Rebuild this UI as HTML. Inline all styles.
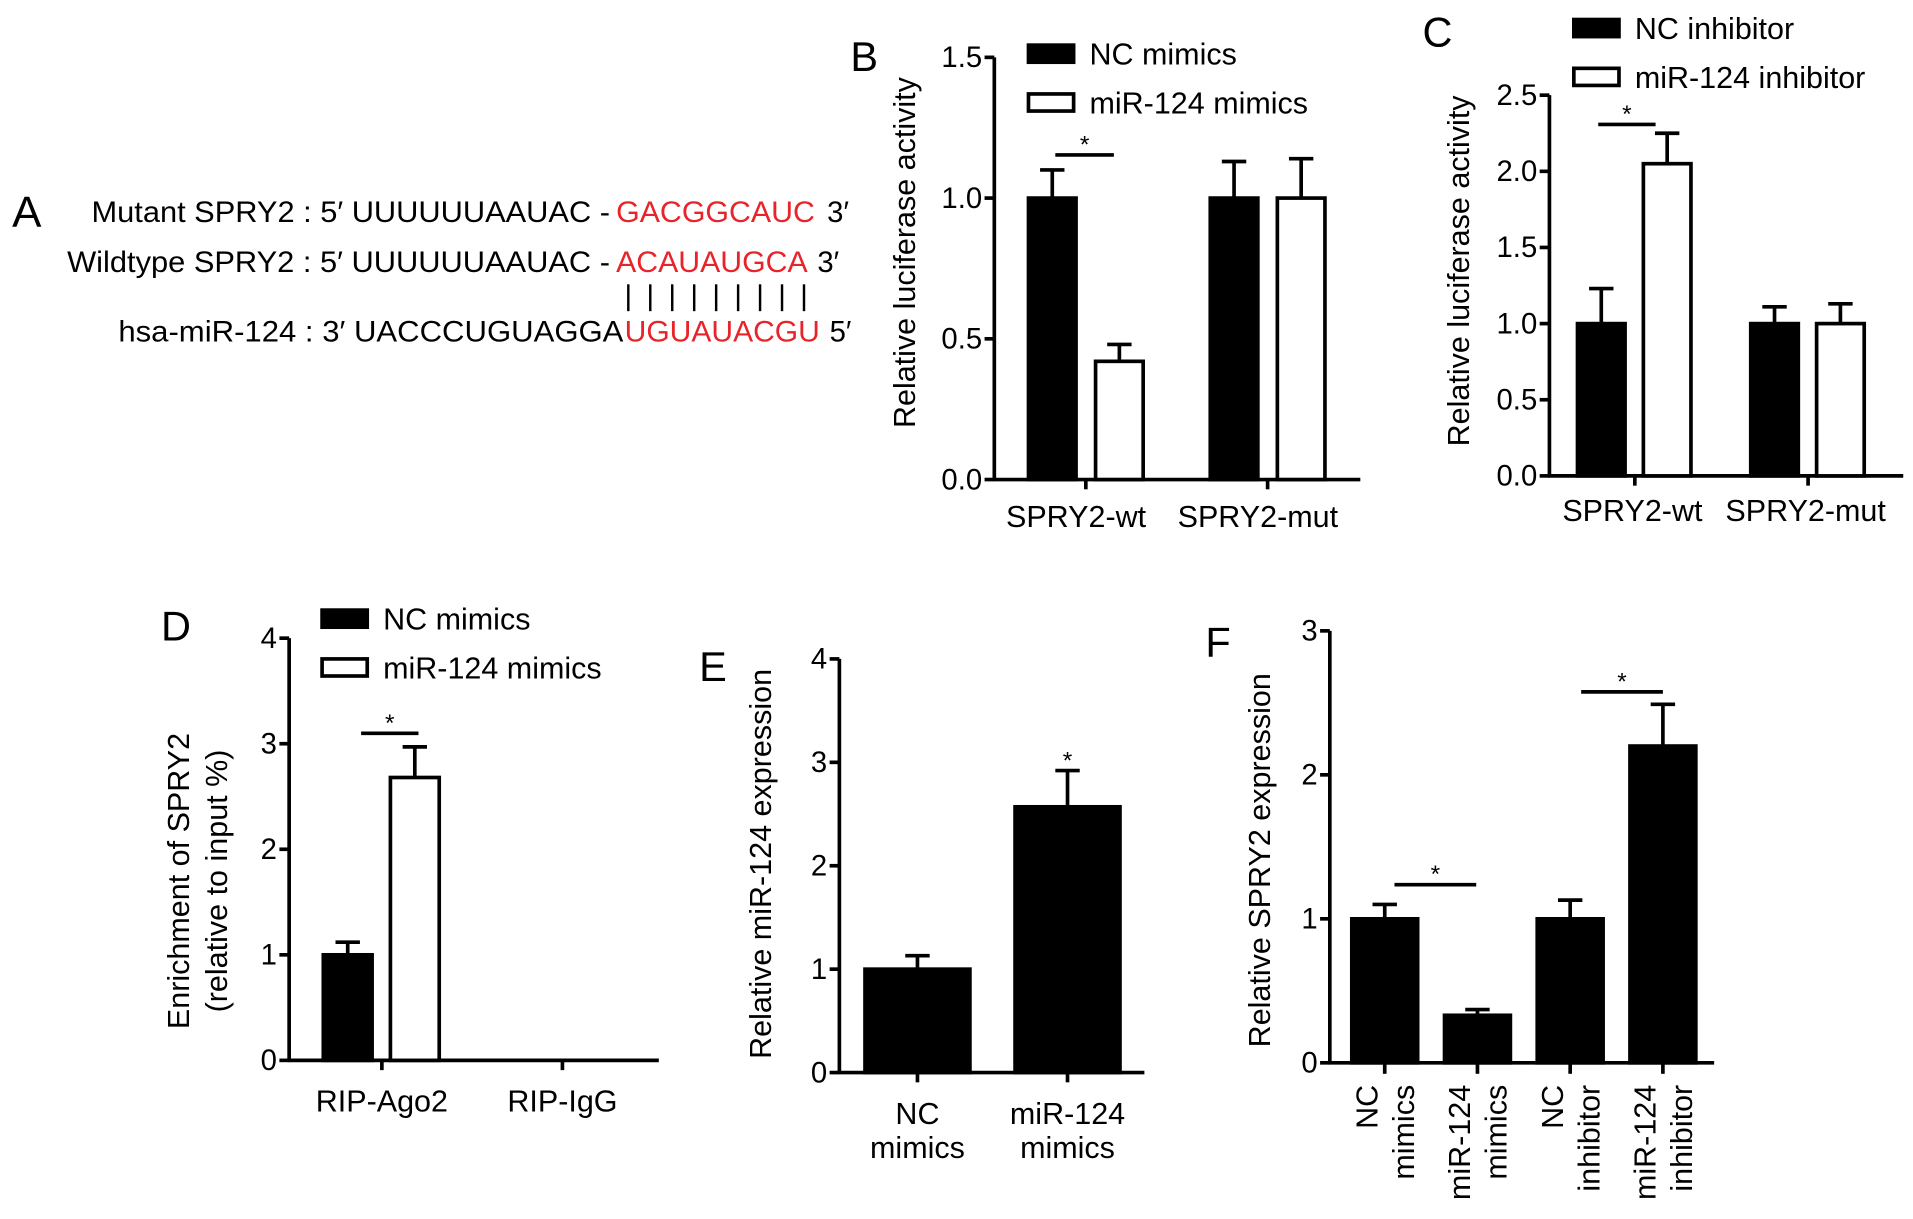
<!DOCTYPE html>
<html><head><meta charset="utf-8">
<style>
html,body{margin:0;padding:0;background:#fff;}
svg{display:block;font-family:"Liberation Sans",Arial,sans-serif;}
</style></head>
<body>
<svg id="fig" width="1913" height="1219" viewBox="0 0 1568 999" preserveAspectRatio="none" xmlns="http://www.w3.org/2000/svg">
<g font-size="24">
  <text x="10" y="186" font-size="36">A</text>
  <text x="75" y="182" textLength="425" lengthAdjust="spacingAndGlyphs">Mutant SPRY2 : 5′ UUUUUUAAUAC -</text>
  <text x="505" y="182" fill="#e8242a" textLength="163" lengthAdjust="spacingAndGlyphs">GACGGCAUC</text>
  <text x="678" y="182">3′</text>
  <text x="55" y="223" textLength="445" lengthAdjust="spacingAndGlyphs">Wildtype SPRY2 : 5′ UUUUUUAAUAC -</text>
  <text x="505" y="223" fill="#e8242a" textLength="157" lengthAdjust="spacingAndGlyphs">ACAUAUGCA</text>
  <text x="670" y="223">3′</text>
  <g id="pairs" stroke="#000" stroke-width="2"></g>
  <text x="97" y="280" textLength="414" lengthAdjust="spacingAndGlyphs">hsa-miR-124 : 3′ UACCCUGUAGGA</text>
  <text x="512" y="280" fill="#e8242a" textLength="160" lengthAdjust="spacingAndGlyphs">UGUAUACGU</text>
  <text x="680" y="280">5′</text>
</g>
</svg>
<script>
const NS="http://www.w3.org/2000/svg";
const svg=document.getElementById('fig');
function mk(tag,attrs,parent){const e=document.createElementNS(NS,tag);for(const k in attrs)e.setAttribute(k,attrs[k]);(parent||svg).appendChild(e);return e;}
const pairs=document.getElementById('pairs');
for(let i=0;i<9;i++){const l=mk('line',{x1:515+i*18,x2:515+i*18,y1:233,y2:255},pairs);

}

// ---- data ----
const bCategories=["SPRY2-wt","SPRY2-mut"];
const bNC=[1.0,1.0];
const bNCerr=[0.10,0.13];
const bMiR=[0.42,1.0];
const bMiRerr=[0.06,0.14];
const bTicks=["0.0","0.5","1.0","1.5"];

const cCategories=["SPRY2-wt","SPRY2-mut"];
const cNC=[1.0,1.0];
const cNCerr=[0.23,0.11];
const cMiR=[2.05,1.0];
const cMiRerr=[0.20,0.13];
const cTicks=["0.0","0.5","1.0","1.5","2.0","2.5"];

const dCategories=["RIP-Ago2","RIP-IgG"];
const dNC=[1.0,0];
const dNCerr=[0.12,0];
const dMiR=[2.68,0];
const dMiRerr=[0.29,0];
const dTicks=["0","1","2","3","4"];

const eCategories=[["NC","mimics"],["miR-124","mimics"]];
const eValues=[1.0,2.57];
const eErr=[0.13,0.35];
const eTicks=["0","1","2","3","4"];

const fCategories=[["NC","mimics"],["miR-124","mimics"],["NC","inhibitor"],["miR-124","inhibitor"]];
const fValues=[1.0,0.33,1.0,2.2];
const fErr=[0.10,0.04,0.13,0.29];
const fTicks=["0","1","2","3"];

const TICK=24, XL=25, YT=25, LEG=25;
function axis(g,x0,x1,y0,y1,vmax,ticks,name){
  const ys=v=>y0-(v/vmax)*(y0-y1);
  const a=mk('line',{x1:x0,x2:x0,y1:y0+1,y2:y1,stroke:'#000','stroke-width':3},g);
  
  
  const b=mk('line',{x1:x0-1,x2:x1,y1:y0,y2:y0,stroke:'#000','stroke-width':3},g);
  
  
  ticks.forEach(t=>{const y=ys(parseFloat(t));
    const tl=mk('line',{x1:x0-8,x2:x0,y1:y,y2:y,stroke:'#000','stroke-width':3},g);
    
    
    const tx=mk('text',{x:x0-10,y:y+8,'text-anchor':'end','font-size':TICK},g);tx.textContent=t;
    
    });
  return ys;
}
function bar(g,x,w,v,err,ys,fill,name){
  const top=ys(v),base=ys(0);
  if(v>0){
  const r=mk('rect',{x:x,y:top,width:w,height:base-top,fill:fill,stroke:'#000','stroke-width':3},g);
  
  }
  if(err>0){const cx=x+w/2;
    const e1=mk('line',{x1:cx,x2:cx,y1:top,y2:ys(v+err),stroke:'#000','stroke-width':3},g);
    
    
    const e2=mk('line',{x1:cx-10,x2:cx+10,y1:ys(v+err),y2:ys(v+err),stroke:'#000','stroke-width':3},g);
    
    }
}
function text(g,x,y,s,size,anchor,name,rot){
  const t=mk('text',{x:x,y:y,'font-size':size,'text-anchor':anchor||'start'},g);
  if(rot)t.setAttribute('transform',`rotate(-90 ${x} ${y})`);
  t.textContent=s;
  
  
  return t;
}
function sig(g,x1,x2,y,name){
  const l=mk('line',{x1:x1,x2:x2,y1:y,y2:y,stroke:'#000','stroke-width':3},g);
  
  
  text(g,(x1+x2)/2,y-2,'*',20,'middle',name+'-star');
}
function legend(g,x,y,label,fill,name){
  const r=mk('rect',{x:x,y:y,width:37,height:14,fill:fill,stroke:'#000','stroke-width':3},g);
  
  
  text(g,x+50,y+16,label,LEG,'start',name+'-label');
}
function grp(name){const g=mk('g',{});return g;}

// Panel B
(function(){const g=grp('panel-b');
  text(g,697,58,'B',34,'start','panel-b-label');
  const ys=axis(g,815,1115,393,47,1.5,bTicks,'panel-b');
  const centers=[890,1039];
  bCategories.forEach((c,i)=>{
    bar(g,centers[i]-47,39,bNC[i],bNCerr[i],ys,'#000','bar-nc-'+c);
    bar(g,centers[i]+8,39,bMiR[i],bMiRerr[i],ys,'#fff','bar-mir-'+c);
    const t=mk('line',{x1:centers[i],x2:centers[i],y1:393,y2:401,stroke:'#000','stroke-width':3},g);
    
    
    text(g,centers[i]-8,432,c,XL,'middle','panel-b-x-label');
  });
  sig(g,865,913,127,'panel-b-significance');
  text(g,750,207,'Relative luciferase activity',YT,'middle','panel-b-y-title',true);
  legend(g,843,37,'NC mimics','#000','legend-nc-mimics-b');
  legend(g,843,77,'miR-124 mimics','#fff','legend-mir124-mimics-b');
})();
// Panel C
(function(){const g=grp('panel-c');
  text(g,1166,38,'C',34,'start','panel-c-label');
  const ys=axis(g,1270,1560,390,78,2.5,cTicks,'panel-c');
  const centers=[1340,1482];
  cCategories.forEach((c,i)=>{
    bar(g,centers[i]-47,39,cNC[i],cNCerr[i],ys,'#000','bar-nc-inh-'+c);
    bar(g,centers[i]+7,39,cMiR[i],cMiRerr[i],ys,'#fff','bar-mir-inh-'+c);
    const t=mk('line',{x1:centers[i],x2:centers[i],y1:390,y2:398,stroke:'#000','stroke-width':3},g);
    
    
    text(g,centers[i]-2,427,c,XL,'middle','panel-c-x-label');
  });
  sig(g,1310,1357,102,'panel-c-significance');
  text(g,1204,222,'Relative luciferase activity',YT,'middle','panel-c-y-title',true);
  legend(g,1290,16,'NC inhibitor','#000','legend-nc-inhibitor');
  legend(g,1290,56,'miR-124 inhibitor','#fff','legend-mir124-inhibitor');
})();
// Panel D
(function(){const g=grp('panel-d');
  text(g,132,525,'D',34,'start','panel-d-label');
  const ys=axis(g,237,540,869,523,4,dTicks,'panel-d');
  const centers=[313,461];
  dCategories.forEach((c,i)=>{
    bar(g,centers[i]-48,40,dNC[i],dNCerr[i],ys,'#000','bar-nc-'+c);
    bar(g,centers[i]+7,40,dMiR[i],dMiRerr[i],ys,'#fff','bar-mir-'+c);
    const t=mk('line',{x1:centers[i],x2:centers[i],y1:869,y2:877,stroke:'#000','stroke-width':3},g);
    
    
    text(g,centers[i],911,c,XL,'middle','panel-d-x-label');
  });
  sig(g,296,343,601,'panel-d-significance');
  text(g,155,722,'Enrichment of SPRY2',YT,'middle','panel-d-y-title',true);
  text(g,186,722,'(relative to input %)',YT,'middle','panel-d-y-subtitle',true);
  legend(g,264,500,'NC mimics','#000','legend-nc-mimics-d');
  legend(g,264,540,'miR-124 mimics','#fff','legend-mir124-mimics-d');
})();
// Panel E
(function(){const g=grp('panel-e');
  text(g,573,558,'E',34,'start','panel-e-label');
  const ys=axis(g,688,938,879,540,4,eTicks,'panel-e');
  const centers=[752,875];
  eCategories.forEach((c,i)=>{
    bar(g,centers[i]-43,86,eValues[i],eErr[i],ys,'#000','bar-'+c.join('-'));
    const t=mk('line',{x1:centers[i],x2:centers[i],y1:879,y2:887,stroke:'#000','stroke-width':3},g);
    
    
    text(g,centers[i],921,c[0],XL,'middle','panel-e-x-label');
    text(g,centers[i],949,c[1],XL,'middle','panel-e-x-label-2');
  });
  text(g,875,630,'*',20,'middle','panel-e-star');
  text(g,632,708,'Relative miR-124 expression',YT,'middle','panel-e-y-title',true);
})();
// Panel F
(function(){const g=grp('panel-f');
  text(g,988,538,'F',34,'start','panel-f-label');
  const ys=axis(g,1090,1405,871,517,3,fTicks,'panel-f');
  const centers=[1135,1211,1287,1363];
  fCategories.forEach((c,i)=>{
    bar(g,centers[i]-27,54,fValues[i],fErr[i],ys,'#000','bar-'+c.join('-')+'-'+i);
    const t=mk('line',{x1:centers[i],x2:centers[i],y1:871,y2:880,stroke:'#000','stroke-width':3},g);
    
    
    text(g,centers[i]-6,889,c[0],XL,'end','panel-f-x-label',true);
    text(g,centers[i]+24,889,c[1],XL,'end','panel-f-x-label-2',true);
  });
  sig(g,1143,1210,725,'panel-f-significance-1');
  sig(g,1296,1363,567,'panel-f-significance-2');
  text(g,1041,705,'Relative SPRY2 expression',YT,'middle','panel-f-y-title',true);
})();
</script>
</body></html>
